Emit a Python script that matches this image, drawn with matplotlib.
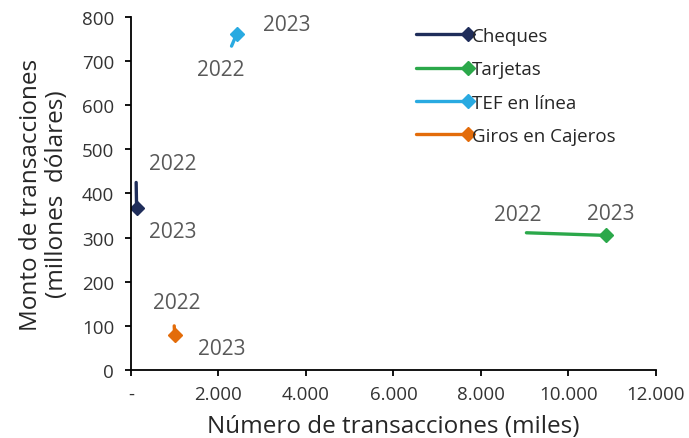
import matplotlib
matplotlib.use("Agg")
import matplotlib.pyplot as plt
from matplotlib.lines import Line2D
from matplotlib.legend_handler import HandlerBase
from matplotlib.ticker import FixedLocator, FuncFormatter

plt.rcParams['font.family'] = ['Open Sans', 'DejaVu Sans']

# Number of transactions (thousands) and amount (million dollars), 2022 -> 2023
series = ["Cheques", "Tarjetas", "TEF en línea", "Giros en Cajeros"]
years = ["2022", "2023"]
cheques_x = [120, 130]
cheques_y = [425, 368]
tarjetas_x = [9040, 10870]
tarjetas_y = [311, 305]
tef_x = [2300, 2415]
tef_y = [734, 761]
giros_x = [990, 1000]
giros_y = [100, 80]

colors = ["#1F2D5A", "#2BA84A", "#29AAE1", "#E36C0A"]
xs = [cheques_x, tarjetas_x, tef_x, giros_x]
ys = [cheques_y, tarjetas_y, tef_y, giros_y]

# label offsets (points) for the 2022 / 2023 annotations
offsets = [
    [(26, 14), (26, -17)],
    [(-6.5, 13), (3, 16)],
    [(-8, -17), (36, 7)],
    [(2, 17), (34, -10)],
]

x_ticks = [0, 2000, 4000, 6000, 8000, 10000, 12000]
y_ticks = [0, 100, 200, 300, 400, 500, 600, 700, 800]

fig = plt.figure(figsize=(6.89, 4.39), dpi=100)
ax = fig.add_axes([0.190, 0.1549, 0.762, 0.8041])

for name, x, y, c, offs in zip(series, xs, ys, colors, offsets):
    ax.plot(x, y, color=c, lw=2.4, solid_capstyle='round',
            marker='D', markevery=[1], markersize=7.5, label=name)
    for xi, yi, yr, off in zip(x, y, years, offs):
        ax.annotate(yr, (xi, yi), xytext=off, textcoords='offset points',
                    ha='center', va='center', fontsize=15, color='#595959')

ax.set_xlim(0, 12000)
ax.set_ylim(0, 800)
ax.xaxis.set_major_locator(FixedLocator(x_ticks))
ax.yaxis.set_major_locator(FixedLocator(y_ticks))


def thousands(v, pos):
    if v == 0:
        return "-"
    return f"{int(v):,}".replace(",", ".")


ax.xaxis.set_major_formatter(FuncFormatter(thousands))
for s in ("top", "right"):
    ax.spines[s].set_visible(False)
for s in ("left", "bottom"):
    ax.spines[s].set_linewidth(1.3)
    ax.spines[s].set_color("black")
ax.tick_params(axis='both', direction='out', length=4, width=1.3,
               labelsize=13.5, labelcolor='#333333')
ax.tick_params(axis='y', pad=8)
ax.tick_params(axis='x', pad=7)
ax.set_xlabel("Número de transacciones (miles)", fontsize=17.5, color='#262626', labelpad=8)
ax.set_ylabel("Monto de transacciones\n(millones  dólares)", fontsize=17.5, color='#262626',
              labelpad=9, linespacing=1.15)


class LineEndDiamond(HandlerBase):
    def create_artists(self, legend, orig_handle, xdescent, ydescent, width, height,
                       fontsize, trans):
        yc = height / 2 - ydescent
        c = orig_handle.get_color()
        ln = Line2D([-xdescent, width - xdescent], [yc, yc], color=c, lw=2.4,
                    solid_capstyle='round')
        mk = Line2D([width - xdescent], [yc], marker='D', color=c, markersize=7.5, lw=0)
        ln.set_transform(trans)
        mk.set_transform(trans)
        return [ln, mk]


handles = [Line2D([], [], color=c) for c in colors]
leg = fig.legend(handles, series, handler_map={Line2D: LineEndDiamond()},
                 loc='upper left', bbox_to_anchor=(0.580, 0.975), frameon=False,
                 fontsize=13.5, handlelength=2.75, handletextpad=0.2, labelspacing=0.82)
for t in leg.get_texts():
    t.set_color('#262626')

fig.savefig("out.png", dpi=100)
